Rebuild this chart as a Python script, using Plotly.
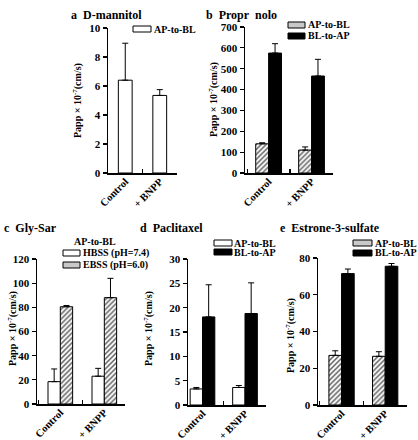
import plotly.graph_objects as go

W, H = 418, 440
FONT = "Liberation Serif"

categories = ["Control", "+ BNPP"]

# a D-mannitol
mannitol_ap = [6.4, 5.35]
mannitol_ap_err = [2.55, 0.4]
# b Propranolol
prop_ap = [140, 110]
prop_ap_err = [5, 15]
prop_bl = [575, 465]
prop_bl_err = [45, 80]
# c Gly-Sar
gly_hbss = [18.5, 23]
gly_hbss_err = [10.5, 6.5]
gly_ebss = [80.5, 88]
gly_ebss_err = [1, 16]
# d Paclitaxel
pac_ap = [3.3, 3.6]
pac_ap_err = [0.3, 0.4]
pac_bl = [18.1, 18.8]
pac_bl_err = [6.6, 6.3]
# e Estrone-3-sulfate
est_ap = [27, 26.5]
est_ap_err = [2.5, 2.5]
est_bl = [71.5, 75.5]
est_bl_err = [2.5, 1.5]

titles = ["a\u00a0\u00a0D-mannitol", "b\u00a0\u00a0Propr\u00a0\u00a0nolo", "c\u00a0\u00a0Gly-Sar",
          "d\u00a0\u00a0Paclitaxel", "e\u00a0\u00a0Estrone-3-sulfate"]
ymax = [10, 700, 120, 30, 80]
ydtick = [2, 100, 20, 5, 20]

# pixel boxes of plot areas: (x0, x1, ytop, ybottom)
boxes = [(108, 177, 28, 173), (245, 333, 27, 173), (37, 125, 259, 404),
         (188, 266, 259, 405), (318, 407, 258, 405)]
xranges = [[-0.5, 1.5], [-0.55, 1.5], [-0.53, 1.47], [-0.341, 1.494], [-0.54, 1.5]]

STYLE_WHITE = dict(color="white", line=dict(color="black", width=1))
STYLE_BLACK = dict(color="black", line=dict(color="black", width=1))
STYLE_HATCH = dict(color="white", line=dict(color="black", width=1),
                   pattern=dict(shape="/", fgcolor="#555555", bgcolor="white", size=3.5, solidity=0.4))

fig = go.Figure()

def add_bar(i, vals, errs, style, width, offset):
    ax = "" if i == 0 else str(i + 1)
    fig.add_trace(go.Bar(
        x=categories, y=vals, width=width, offset=offset,
        marker=style, showlegend=False, hoverinfo="skip",
        error_y=dict(type="data", array=errs, arrayminus=[0] * len(errs), symmetric=False,
                     color="black", thickness=1, width=3),
        xaxis="x" + ax, yaxis="y" + ax))

add_bar(0, mannitol_ap, mannitol_ap_err, STYLE_WHITE, 0.4, -0.2)
add_bar(1, prop_ap, prop_ap_err, STYLE_HATCH, 0.3, -0.3)
add_bar(1, prop_bl, prop_bl_err, STYLE_BLACK, 0.3, 0.0)
add_bar(2, gly_hbss, gly_hbss_err, STYLE_WHITE, 0.28, -0.28)
add_bar(2, gly_ebss, gly_ebss_err, STYLE_HATCH, 0.28, 0.0)
add_bar(3, pac_ap, pac_ap_err, STYLE_WHITE, 0.29, -0.29)
add_bar(3, pac_bl, pac_bl_err, STYLE_BLACK, 0.29, 0.0)
add_bar(4, est_ap, est_ap_err, STYLE_HATCH, 0.29, -0.29)
add_bar(4, est_bl, est_bl_err, STYLE_BLACK, 0.29, 0.0)

layout = dict(width=W, height=H, margin=dict(l=0, r=0, t=0, b=0, autoexpand=False),
              template="none",
              paper_bgcolor="white", plot_bgcolor="white", barmode="overlay",
              showlegend=False, font=dict(family=FONT, color="black"))

for i, (x0, x1, yt, yb) in enumerate(boxes):
    ax = "" if i == 0 else str(i + 1)
    layout["xaxis" + ax] = dict(
        domain=[x0 / W, x1 / W], anchor="y" + ax, type="category", automargin=False,
        categoryorder="array", categoryarray=categories, range=xranges[i],
        tickson="boundaries", ticks="inside", ticklen=4, tickcolor="black", tickwidth=1.2,
        showline=True, linecolor="black", linewidth=1.5, showgrid=False, zeroline=False,
        tickangle=-45, ticklabelstandoff=-3,
        tickfont=dict(family=FONT, size=10.5, weight="bold", color="black"))
    layout["yaxis" + ax] = dict(
        domain=[1 - yb / H, 1 - yt / H], anchor="x" + ax, range=[0, ymax[i]], automargin=False,
        dtick=ydtick[i], tick0=0, ticks="outside", ticklen=4, tickcolor="black", tickwidth=1.2,
        showline=True, linecolor="black", linewidth=1.5, showgrid=False, zeroline=False,
        tickfont=dict(family=FONT, size=11, weight="bold", color="black"))

annotations = []
shapes = []

def text(x, y, s, size=11, xanchor="left", angle=0):
    annotations.append(dict(x=x / W, y=1 - y / H, xref="paper", yref="paper", text=s,
                            showarrow=False, xanchor=xanchor, yanchor="middle", textangle=angle,
                            borderpad=0, font=dict(family=FONT, size=size, color="black", weight="bold")))

# panel titles
title_pos = [(70, 15), (205, 15), (3, 228), (139, 228), (279, 228)]
for (tx, ty), t in zip(title_pos, titles):
    text(tx, ty, t, size=12)

# y-axis titles
ylab = "Papp \u00d7 10<sup>-7</sup>(cm/s)"
for (tx, ty) in [(78, 101), (213, 100), (12, 329), (148, 329), (290, 336)]:
    text(tx, ty, ylab, size=10, xanchor="center", angle=-90)

# legends
def swatch(x0, x1, yc, kind):
    fill = {"white": "white", "black": "black", "hatch": "#c9c9c9"}[kind]
    shapes.append(dict(type="rect", xref="paper", yref="paper",
                       x0=x0 / W, x1=x1 / W, y0=1 - (yc + 3) / H, y1=1 - (yc - 3) / H,
                       fillcolor=fill, line=dict(color="black", width=1)))

swatch(133, 151, 29, "white"); text(153, 29, "AP-to-BL", size=10)
swatch(288, 305, 25, "hatch"); text(307, 25, "AP-to-BL", size=10)
swatch(288, 305, 36, "black"); text(307, 36, "BL-to-AP", size=10)
text(95, 241, "AP-to-BL", size=10, xanchor="center")
swatch(63, 80, 253, "white"); text(82, 253, "HBSS (pH=7.4)", size=10)
swatch(63, 80, 265, "hatch"); text(82, 265, "EBSS (pH=6.0)", size=10)
swatch(214, 232, 243, "white"); text(233, 243, "AP-to-BL", size=10)
swatch(214, 232, 252, "black"); text(233, 252, "BL-to-AP", size=10)
swatch(353, 372, 243, "hatch"); text(374, 243, "AP-to-BL", size=10)
swatch(353, 372, 253, "black"); text(374, 253, "BL-to-AP", size=10)

layout["annotations"] = annotations
layout["shapes"] = shapes
fig.update_layout(**layout)
fig.write_html("out.html", config={"displayModeBar": False, "staticPlot": True},
               post_script="document.body.style.margin='0';document.body.style.overflow='hidden';")
